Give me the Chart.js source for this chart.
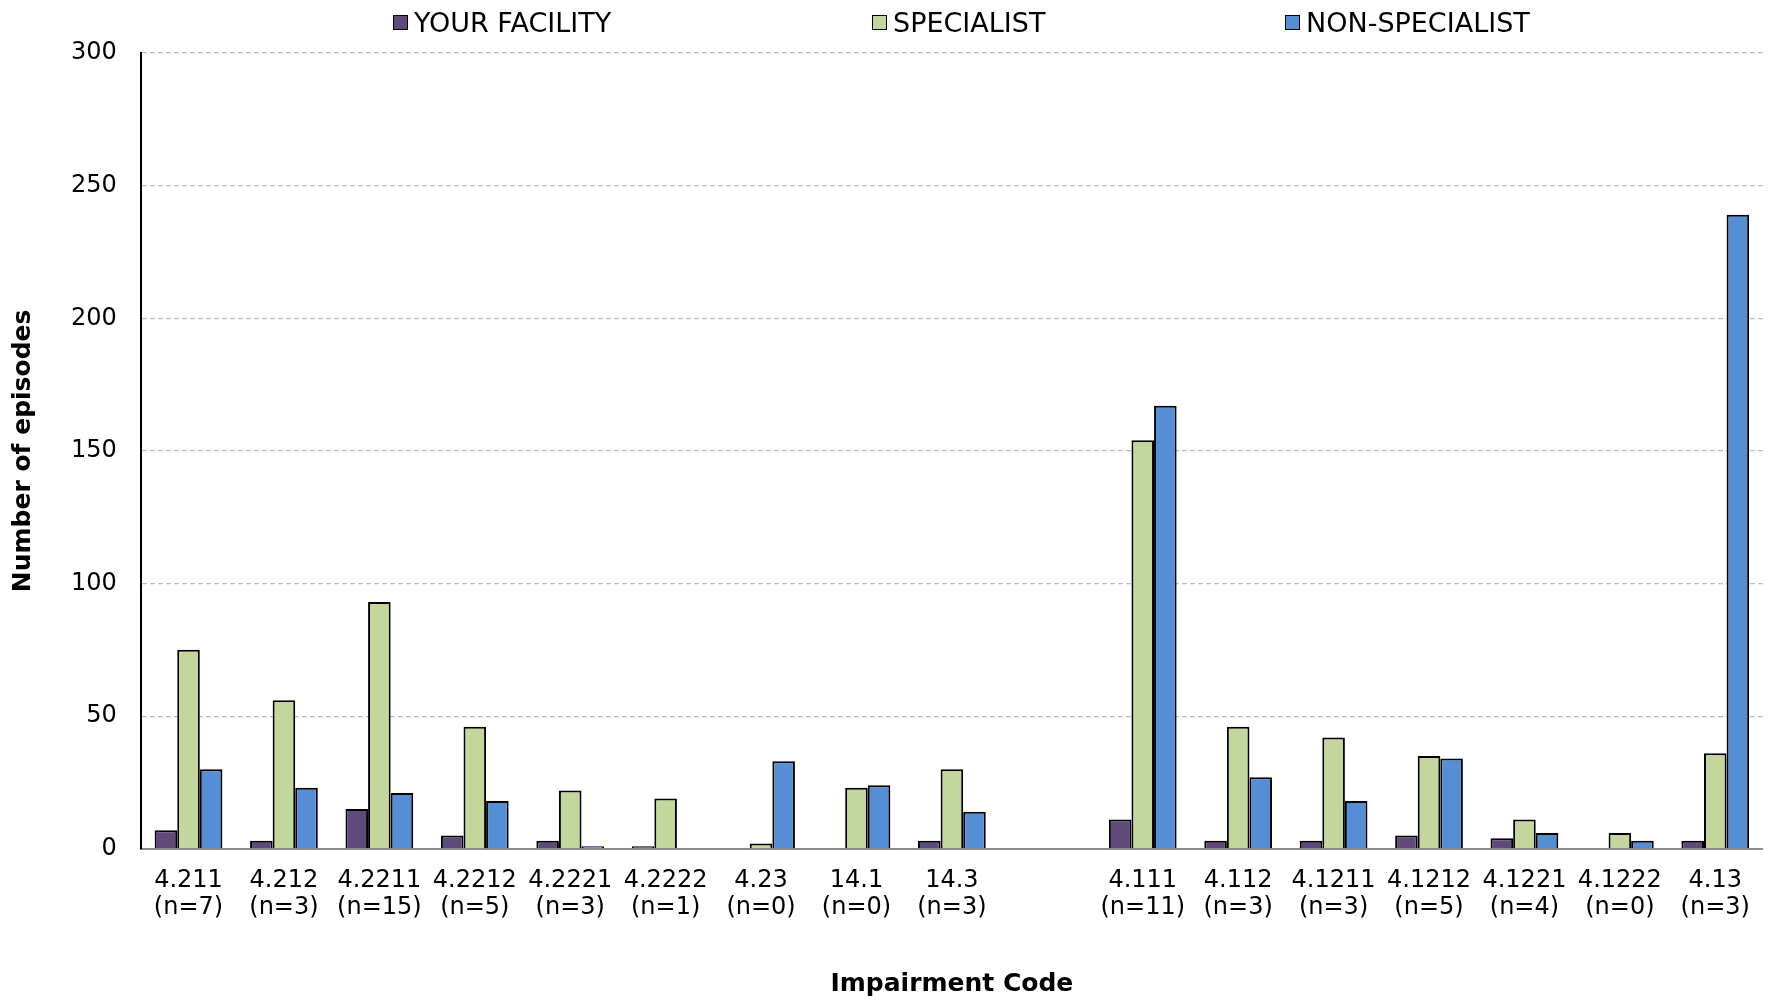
<!DOCTYPE html>
<html>
<head>
<meta charset="utf-8">
<script src="https://cdn.jsdelivr.net/npm/chart.js@4"></script>
<style>
    html, body {margin: 0; padding: 0; background: #fff;}
    #wrap {position: relative; width: 1768px; height: 1003px;}
    #legend {position: absolute; left: 0; top: 0; width: 1768px; height: 45px;}
    .legend-item {position: absolute; top: 7px; display: flex; align-items: center;
        font-family: "DejaVu Sans", sans-serif; font-size: 27px; color: #000; white-space: nowrap;}
    .legend-box {width: 13px; height: 13px; border: 1.5px solid #000; margin-right: 6px;}
</style>
</head>
<body>
<div id="wrap">
    <canvas id="episodes" width="1768" height="1003"></canvas>
    <div id="legend"></div>
</div>
<script>
// impairment codes, '' is the empty gap between the two groups
const codes = ['4.211', '4.212', '4.2211', '4.2212', '4.2221', '4.2222', '4.23', '14.1', '14.3', '',
    '4.111', '4.112', '4.1211', '4.1212', '4.1221', '4.1222', '4.13']
const counts = [7, 3, 15, 5, 3, 1, 0, 0, 3, null, 11, 3, 3, 5, 4, 0, 3]

const yourFacility = [7, 3, 15, 5, 3, 1, 0, 0, 3, null, 11, 3, 3, 5, 4, 0, 3]
const specialist = [75, 56, 93, 46, 22, 19, 2, 23, 30, null, 154, 46, 42, 35, 11, 6, 36]
const nonSpecialist = [30, 23, 21, 18, 1, 0, 33, 24, 14, null, 167, 27, 18, 34, 6, 3, 239]

const yTicks = [0, 50, 100, 150, 200, 250, 300]

const seriesNames = ['YOUR FACILITY', 'SPECIALIST', 'NON-SPECIALIST']
const seriesColors = ['#604a7b', '#c3d69b', '#558ed5']
const legendLeft = [393, 872, 1285]

const labels = codes.map((code, i) => code === '' ? '' : [code, `(n=${counts[i]})`])

function makeDataset(name, values, color){
    return {
        label: name,
        data: values,
        backgroundColor: color,
        borderColor: '#000',
        // no outline for empty bars
        borderWidth: (ctx) => ctx.raw ? 2 : 0,
        borderSkipped: 'bottom',
        barPercentage: 1,
        categoryPercentage: 0.71
    }
}

const tickFont = {family: 'DejaVu Sans', size: 24, lineHeight: 1.15}
const titleFont = {family: 'DejaVu Sans', size: 25, weight: 'bold', lineHeight: 1.2}

const config = {
    type: 'bar',
    data: {
        labels: labels,
        datasets: [
            makeDataset(seriesNames[0], yourFacility, seriesColors[0]),
            makeDataset(seriesNames[1], specialist, seriesColors[1]),
            makeDataset(seriesNames[2], nonSpecialist, seriesColors[2]),
        ]
    },
    options: {
        responsive: false,
        devicePixelRatio: 1,
        animation: false,
        layout: {
            padding: {top: 53, right: 2, left: 0, bottom: 0}
        },
        plugins: {
            legend: {display: false},
            tooltip: {enabled: false}
        },
        scales: {
            x: {
                grid: {display: false, drawTicks: false},
                border: {color: '#8c8c8c', width: 2},
                ticks: {
                    color: '#000',
                    font: tickFont,
                    padding: 18,
                    maxRotation: 0,
                    autoSkip: false
                },
                title: {
                    display: true,
                    text: 'Impairment Code',
                    color: '#000',
                    font: titleFont,
                    padding: {top: 29, bottom: 4}
                }
            },
            y: {
                min: 0,
                max: 300,
                afterBuildTicks: (axis) => {
                    axis.ticks = yTicks.map(v => ({value: v}))
                },
                grid: {
                    color: '#bdbdbd',
                    lineWidth: 1.2,
                    drawTicks: false
                },
                // in v4 border.dash dashes the grid lines, the axis line stays solid
                border: {color: '#000', width: 2, dash: [5, 3]},
                ticks: {
                    color: '#000',
                    font: tickFont,
                    padding: 24
                },
                title: {
                    display: true,
                    text: 'Number of episodes',
                    color: '#000',
                    font: titleFont,
                    padding: {top: 8, bottom: 9}
                }
            }
        }
    },
    plugins: []
}

const chart = new Chart(document.getElementById('episodes'), config)

function buildLegend(chart){
    const legend = document.getElementById('legend')
    const items = Chart.defaults.plugins.legend.labels.generateLabels(chart)
    items.forEach((item, i) => {
        const el = document.createElement('div')
        el.className = 'legend-item'
        el.style.left = legendLeft[i] + 'px'
        const box = document.createElement('span')
        box.className = 'legend-box'
        box.style.background = item.fillStyle
        const txt = document.createElement('span')
        txt.textContent = item.text
        el.appendChild(box)
        el.appendChild(txt)
        legend.appendChild(el)
    })
}
buildLegend(chart)
</script>
</body>
</html>
